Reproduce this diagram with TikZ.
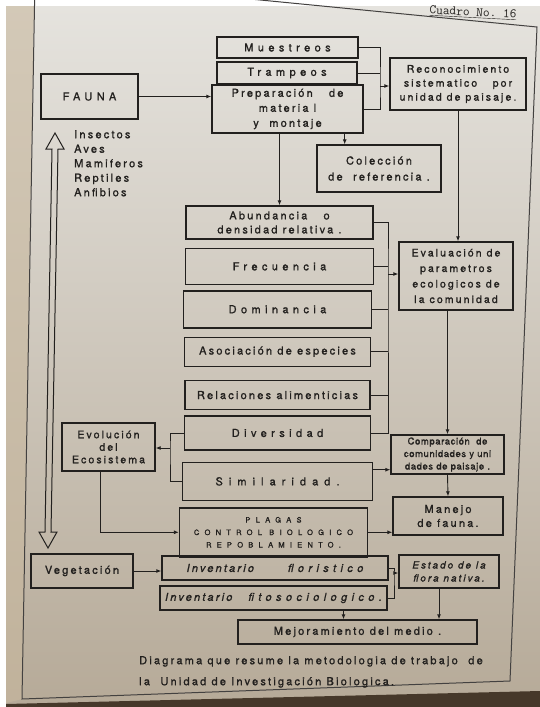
\documentclass[tikz,border=0pt]{standalone}
\usepackage{fontspec}
\setmainfont{TeX Gyre Heros}
\newfontfamily\lett[LetterSpace=20,FakeBold=1.2]{TeX Gyre Heros}
\newfontfamily\tightl[LetterSpace=6,FakeBold=1.2]{TeX Gyre Heros}
\newfontfamily\wide[LetterSpace=40,FakeBold=1.2]{TeX Gyre Heros}
\newfontfamily\wider[LetterSpace=55,FakeBold=1.2]{TeX Gyre Heros}
\newfontfamily\capsl[LetterSpace=70,FakeBold=1.2]{TeX Gyre Heros}
\usetikzlibrary{positioning,arrows.meta,calc}

\definecolor{ink}{RGB}{34,32,30}
\definecolor{paperT}{RGB}{229,227,222}
\definecolor{paperM}{RGB}{217,214,207}
\definecolor{paperB}{RGB}{182,170,152}
\definecolor{margin}{RGB}{200,184,158}
\definecolor{shadow}{RGB}{70,56,42}

\newcommand\fnorm{\lett\fontsize{11}{14}\selectfont}
\newcommand\fwide{\wide\fontsize{11}{14}\selectfont}
\newcommand\fwider{\wider\fontsize{11}{14}\selectfont}
\newcommand\fsmall{\lett\fontsize{10.5}{14}\selectfont}
\newcommand\ftight{\tightl\fontsize{9.5}{12.5}\selectfont}
\newcommand\fcaps{\capsl\fontsize{7.5}{12.5}\selectfont}

\begin{document}
\begin{tikzpicture}[
  x=1pt, y=-1pt,
  box/.style={draw=ink, line width=1.4pt, inner sep=1pt, align=center, text=ink, font=\fnorm},
  sz/.style 2 args={minimum width=#1pt, minimum height=#2pt},
  flow/.style={-{Latex[length=5pt,width=4pt]}, line width=0.9pt, draw=ink},
  link/.style={line width=0.9pt, draw=ink},
  plain/.style={inner sep=0pt, align=left, text=ink, font=\fnorm},
  frame/.style={draw=ink!85, line width=1pt},
]
  \useasboundingbox (0,0) rectangle (540,707);
  \clip (0,0) rectangle (540,707);

  % Paper
  \fill[white] (0,0) rectangle (540,707);
  \shade[top color=paperT, middle color=paperM, bottom color=paperB] (6,6) rectangle (540,707);
  \fill[margin, opacity=0.6] (6,6) -- (34,6) -- (22,699) -- (6,703) -- cycle;
  \fill[shadow] (6,704) -- (540,691) -- (540,707) -- (6,707) -- cycle;
  \draw[frame] (35,-22) -- (537,27) -- (510,681) -- (22,699) -- cycle;

  \node[font=\ttfamily\fontsize{13}{15}\selectfont, text=ink, rotate=-3] (cuadro) at (473,13) {\underline{Cuadro No.\ 16}};

  % Fauna side
  \node[box, sz={97}{45}, font=\fwide] (fauna) at (89.5,96.5) {FAUNA};
  \node[plain, anchor=north west, font=\lett\fontsize{11}{14.5}\selectfont] (taxa) at (74,130)
    {Insectos\\Aves\\Mamiferos\\Reptiles\\Anfibios};

  \node[box, sz={141}{21}, font=\fwide] (muest) at (287.5,47.5) {Muestreos};
  \node[box, sz={140}{22}, font=\fwide] (tramp) at (287,73) {Trampeos};
  \node[box, sz={151}{48}, font=\lett\fontsize{11}{15}\selectfont] (prep) at (287.5,109)
    {Preparación \quad de\\materia l\\y \ montaje};
  \node[box, sz={136}{52}, font=\fsmall] (recon) at (458,84)
    {Reconocimiento\\sistematico \quad por\\unidad de paisaje.};
  \node[box, sz={124}{47}, font=\lett\fontsize{11}{16}\selectfont] (colec) at (379,168.5)
    {Colección\\de \ referencia .};

  % Parameter column
  \node[box, sz={187}{33}] (abun) at (279.5,222.5) {Abundancia \quad o\\densidad relativa .};
  \node[box, sz={188}{36}, below=8pt of abun, font=\fwide] (frec) {Frecuencia};
  \node[box, sz={188}{37}, below=5pt of frec, xshift=-2pt, font=\fwide] (domin) {Dominancia};
  \node[box, sz={186}{29}, below=8pt of domin] (asoc) {Asociación de especies};
  \node[box, sz={185}{29}, below=13pt of asoc] (relac) {Relaciones alimenticias};
  \node[box, sz={186}{34}, below=5pt of relac, font=\fwide] (divers) {Diversidad};
  \node[box, sz={190}{38}, below=11pt of divers, font=\fwider] (simil) {Similaridad.};
  \node[box, sz={188}{49}, below=6pt of simil, xshift=-4pt, font=\fcaps] (plagas)
    {PLAGAS\\CONTROL BIOLOGICO\\REPOBLAMIENTO.};

  \node[box, sz={114}{68}, font=\lett\fontsize{10.5}{15.5}\selectfont] (evalu) at (456,276)
    {Evaluación de\\parametros\\ecologicos de\\la comunidad};
  \node[box, sz={93}{48}, font=\lett\fontsize{10.5}{12.5}\selectfont] (evol) at (108.5,447)
    {Evolución\\del\\Ecosistema};
  \node[box, sz={113}{39}, font=\ftight] (compar) at (447.5,454.5)
    {Comparación \ de\\comunidades y uni\\dades de paisaje .};
  \node[box, sz={110}{38}, font=\lett\fontsize{11}{14}\selectfont] (manejo) at (448,516)
    {Manejo\\de fauna.};

  % Vegetation side
  \node[box, sz={102}{34}] (veget) at (82,571) {Vegetación};
  \node[box, sz={226}{24}, font=\fnorm\itshape] (invflor) at (275,568)
    {Inventario\hspace{34pt}{\wide floristico}};
  \node[box, sz={227}{24}, font=\fnorm\itshape] (invfito) at (273.5,598)
    {Inventario\hspace{16pt}{\wide fitosociologico.}};
  \node[box, sz={100}{33}, font=\lett\fontsize{10}{13}\selectfont\itshape] (estado) at (449,571.5)
    {Estado de la\\flora nativa.};
  \node[box, sz={239}{24}] (mejor) at (357.5,632) {Mejoramiento del medio .};

  \node[plain, anchor=north west, font=\lett\fontsize{11}{21}\selectfont] (caption) at (139,656)
    {Diagrama que resume la metodologia de trabajo \ de\\la \ Unidad de Investigación Biologica.};

  % Double arrow between Fauna and Vegetacion
  \coordinate (dtop) at (55,133);
  \coordinate (dbot) at (48,548);
  \draw[ink, line width=1pt, line join=miter]
    (dtop) -- ($(dtop)+(9,16)$) -- ($(dtop)+(3,16)$) -- ($(dbot)+(3,-16)$) -- ($(dbot)+(9,-16)$)
    -- (dbot) -- ($(dbot)+(-9,-16)$) -- ($(dbot)+(-3,-16)$) -- ($(dtop)+(-3,16)$)
    -- ($(dtop)+(-9,16)$) -- cycle;

  % Connectors
  \coordinate (rbr) at (380,86);
  \draw[link] (muest.east) -| (rbr) |- (prep.east);
  \draw[link] (tramp.east) -- (tramp.east -| rbr);
  \draw[flow] (rbr) -- (rbr -| recon.west);
  \draw[flow] (fauna.east) -- (fauna.east -| prep.west);
  \draw[flow] (prep.south -| abun.north) -- (abun.north);
  \draw[flow] ([xshift=-19pt]prep.south east) -- ([xshift=-19pt]prep.south east |- colec.north);
  \draw[flow] (recon.south) -- (recon.south |- evalu.north);

  \coordinate (cbr) at (388,274);
  \draw[link] (abun.east) -| (cbr) |- (divers.east);
  \foreach \n in {frec,domin,asoc,relac}
    \draw[link] (\n.east) -- (\n.east -| cbr);
  \draw[flow] (cbr) -- (cbr -| evalu.west);

  \coordinate (ebr) at (170,448);
  \draw[link] (divers.west) -| (ebr) |- (simil.west);
  \draw[flow] (ebr) -- (ebr -| evol.east);

  \draw[flow] (evalu.south -| compar.north) -- (compar.north);
  \draw[flow] ([yshift=-8pt]simil.north east) -- ([yshift=-8pt]simil.north east -| compar.west);
  \draw[flow] (compar.south) -- (manejo.north);
  \draw[flow] ([xshift=-8pt]evol.south) |- (plagas.west);
  \draw[flow] (plagas.east) -- (plagas.east -| manejo.west);

  \draw[flow] (veget.east) -- (veget.east -| invflor.west);
  \coordinate (fbr) at (394,573);
  \draw[link] (invflor.east) -| (fbr) |- (invfito.east);
  \draw[flow] (fbr) -- (fbr -| estado.west);
  \draw[flow] ([xshift=-14pt]mejor.north |- invfito.south) -- ([xshift=-14pt]mejor.north);
  \draw[flow] ([xshift=-10pt]estado.south) -- ([xshift=-10pt]estado.south |- mejor.north);
\end{tikzpicture}
\end{document}
